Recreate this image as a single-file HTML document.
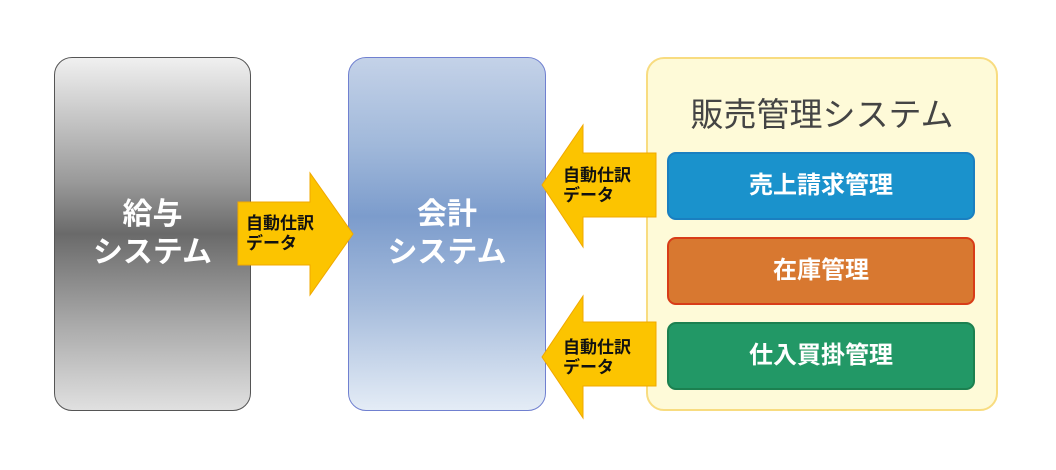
<!DOCTYPE html>
<html><head><meta charset="utf-8"><style>
body{margin:0;width:1056px;height:470px;background:#fff;position:relative;overflow:hidden;font-family:"Liberation Sans","Noto Sans CJK JP",sans-serif}
.b{position:absolute;box-sizing:border-box}
.t{position:absolute;text-align:center;color:#fff;font-size:30px;line-height:38px;font-weight:bold}
.at{position:absolute;font-size:17px;line-height:20px;color:#111;font-weight:bold}
</style></head><body>
<div class="b" style="left:54px;top:57px;width:197px;height:354px;border-radius:18px;border:1.5px solid #555;background:linear-gradient(#f0f0f0 0%,#9a9a9a 35%,#6a6a6a 50%,#a8a8a8 75%,#e0e0e0 100%)"></div>
<div class="t" style="left:54px;top:196px;width:197px">給与<br>システム</div>
<div class="b" style="left:348px;top:57px;width:198px;height:354px;border-radius:18px;border:1.5px solid #7080d0;background:linear-gradient(#c4d2e8 0%,#a0b8da 25%,#7c9ccc 45%,#a6bcdc 70%,#e4ecf6 100%)"></div>
<div class="t" style="left:348px;top:196px;width:198px">会計<br>システム</div>
<div class="b" style="left:646px;top:57px;width:352px;height:354px;border-radius:18px;border:2px solid #f8dc80;background:#fefad8"></div>
<div class="b" style="left:646px;top:88px;width:352px;text-align:center;font-size:33px;color:#444">販売管理システム</div>
<div class="b" style="left:667px;top:152px;width:308px;height:68px;border-radius:9px;background:#1a92cc;border:2px solid #1a7fc0"></div>
<div class="t" style="left:667px;top:167px;width:308px;font-size:24px">売上請求管理</div>
<div class="b" style="left:667px;top:237px;width:308px;height:68px;border-radius:9px;background:#d87830;border:2px solid #d83c18"></div>
<div class="t" style="left:667px;top:252px;width:308px;font-size:24px">在庫管理</div>
<div class="b" style="left:667px;top:322px;width:308px;height:68px;border-radius:9px;background:#229866;border:2px solid #1c8050"></div>
<div class="t" style="left:667px;top:337px;width:308px;font-size:24px">仕入買掛管理</div>
<svg class="b" style="left:0;top:0" width="1056" height="470">
<polygon points="238,202 310,202 310,173 353,234 310,295 310,265 238,265" fill="#fcc400" stroke="#f0a800"/>
<polygon points="656,153 583,153 583,125 542,185 583,247 583,217 656,217" fill="#fcc400" stroke="#f0a800"/>
<polygon points="656,322 583,322 583,296 542,357 583,418 583,386 656,386" fill="#fcc400" stroke="#f0a800"/>
</svg>
<div class="at" style="left:246px;top:214px">自動仕訳<br>データ</div>
<div class="at" style="left:563px;top:166px">自動仕訳<br>データ</div>
<div class="at" style="left:563px;top:338px">自動仕訳<br>データ</div>
</body></html>
